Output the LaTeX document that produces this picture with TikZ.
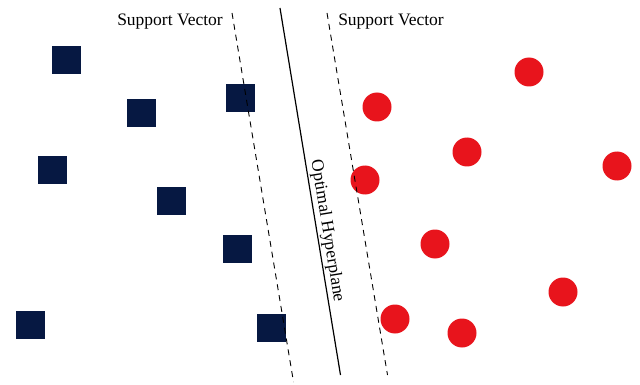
\documentclass[tikz,border=0pt]{standalone}
\usepackage{fontspec}
\setmainfont{Liberation Serif}
\definecolor{navy}{RGB}{6,24,66}
\definecolor{dotred}{RGB}{232,20,28}
\begin{document}
\begin{tikzpicture}[x=1pt,y=-1pt,
  sq/.style={fill=navy,draw=none,minimum width=29pt,minimum height=28pt,inner sep=0pt,outer sep=0pt,rectangle},
  dot/.style={fill=dotred,draw=none,circle,minimum size=29pt,inner sep=0pt,outer sep=0pt},
  svline/.style={draw=black,line width=0.9pt,dash pattern=on 6pt off 5pt},
  hyper/.style={draw=black,line width=1.2pt},
  lbl/.style={font=\fontsize{17.5}{19}\selectfont,inner sep=0pt}]
\useasboundingbox (0,0) rectangle (640,385);
% squares
\node[sq] (s1) at (66,60) {};
\node[sq] (s2) at (141,113) {};
\node[sq] (s3) at (240,98) {};
\node[sq] (s4) at (52,170) {};
\node[sq] (s5) at (171,201) {};
\node[sq] (s6) at (237,249) {};
\node[sq] (s7) at (30,325) {};
\node[sq] (s8) at (271,328) {};
% circles
\node[dot] (c1) at (529,72) {};
\node[dot] (c2) at (377,107) {};
\node[dot] (c3) at (467,152) {};
\node[dot] (c4) at (617,166) {};
\node[dot] (c5) at (365,180) {};
\node[dot] (c6) at (435,244) {};
\node[dot] (c7) at (563,292) {};
\node[dot] (c8) at (395,319) {};
\node[dot] (c9) at (462,333) {};
% lines
\coordinate (la) at (232,13);
\coordinate (lb) at (293.5,382);
\coordinate (ha) at (280,8);
\coordinate (hb) at (340.5,375);
\coordinate (ra) at (327,13);
\coordinate (rb) at (387.5,375);
\draw[svline] (la) -- (lb);
\draw[hyper] (ha) -- (hb);
\draw[svline] (ra) -- (rb);
% labels
\node[lbl] (t1) at (170,22) {Support Vector};
\node[lbl] (t2) at (391,22) {Support Vector};
\node[lbl,rotate=-80.7] (t3) at (327,231) {Optimal Hyperplane};
\end{tikzpicture}
\end{document}
